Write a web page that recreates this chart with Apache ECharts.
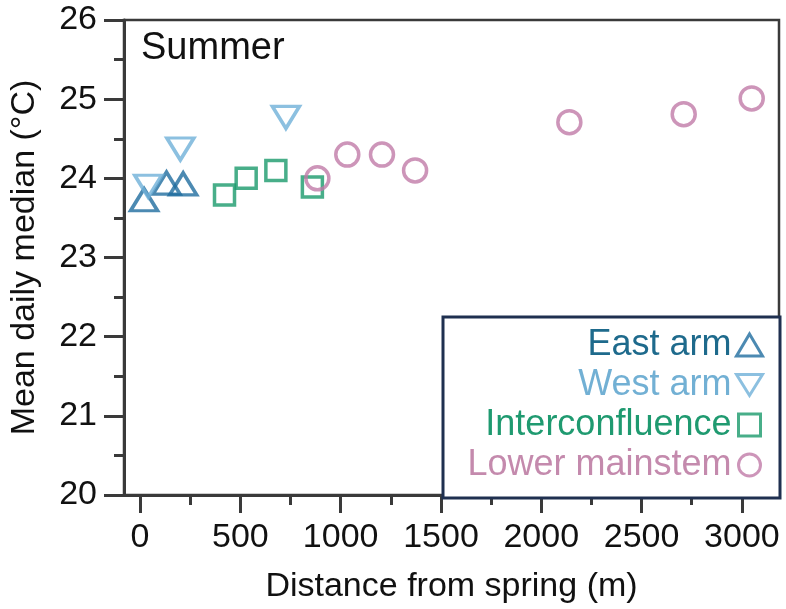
<!DOCTYPE html>
<html>
<head>
<meta charset="utf-8">
<title>Summer</title>
<script src="https://cdn.jsdelivr.net/npm/echarts@6/dist/echarts.min.js"></script>
<style>
  html, body { margin: 0; padding: 0; background: #fff; }
  #chart { width: 786px; height: 609px; }
</style>
</head>
<body>
<div id="chart"></div>
<script>
// distance from spring (m) and mean daily median (°C), per reach
const eastX = [20, 132, 215]
const eastY = [23.73, 23.94, 23.93]
const westX = [41, 201, 727]
const westY = [23.90, 24.37, 24.77]
const interX = [421, 529, 677, 859]
const interY = [23.79, 24.00, 24.10, 23.89]
const lowerX = [884, 1033, 1206, 1371, 2140, 2710, 3049]
const lowerY = [24.00, 24.30, 24.30, 24.10, 24.71, 24.81, 25.01]

const xMajorTicks = [0, 500, 1000, 1500, 2000, 2500, 3000]
const xMinorTicks = [250, 750, 1250, 1750, 2250, 2750]

const FONT = "'Liberation Sans', Arial, sans-serif"
const AXIS = '#3a3a3a'
const DOWN_TRI = 'path://M0,0L26,0L13,21Z'
const SQUARE = 'path://M0,0L20,0L20,20L0,20Z'

const pairs = (xs, ys) => xs.map((x, i) => [x, ys[i]])

const chart = echarts.init(document.getElementById('chart'))

chart.setOption({
  animation: false,
  title: {
    text: 'Summer',
    left: 136,
    top: 25,
    textStyle: { fontFamily: FONT, fontSize: 38, fontWeight: 'normal', color: '#111' }
  },
  grid: {
    left: 120, right: 7, top: 20, bottom: 110,
    show: true, borderColor: AXIS, borderWidth: 2.5
  },
  xAxis: [
    {
      type: 'value',
      min: -80,
      max: 3185,
      name: 'Distance from spring (m)',
      nameLocation: 'middle',
      nameGap: 75,
      nameTextStyle: { fontFamily: FONT, fontSize: 34, color: '#111' },
      axisLine: { onZero: false, lineStyle: { color: AXIS, width: 3 } },
      axisTick: { length: 18, lineStyle: { color: AXIS, width: 3 }, customValues: xMajorTicks },
      axisLabel: {
        fontFamily: FONT, fontSize: 34, color: '#111', margin: 26,
        customValues: xMajorTicks,
        formatter: v => String(v)
      },
      splitLine: { show: false }
    },
    {
      type: 'value',
      min: -80,
      max: 3185,
      position: 'bottom',
      axisLine: { show: false, onZero: false },
      axisTick: { length: 10, lineStyle: { color: AXIS, width: 3 }, customValues: xMinorTicks },
      axisLabel: { show: false },
      splitLine: { show: false }
    }
  ],
  yAxis: {
    type: 'value',
    min: 20,
    max: 26,
    interval: 1,
    name: 'Mean daily median (°C)',
    nameLocation: 'middle',
    nameGap: 82,
    nameTextStyle: { fontFamily: FONT, fontSize: 34, color: '#111' },
    axisLine: { onZero: false, lineStyle: { color: AXIS, width: 3 } },
    axisTick: { length: 20, lineStyle: { color: AXIS, width: 3 } },
    minorTick: { show: true, splitNumber: 2, length: 10, lineStyle: { color: AXIS, width: 3 } },
    axisLabel: { fontFamily: FONT, fontSize: 34, color: '#111', margin: 27 },
    splitLine: { show: false }
  },
  graphic: [
    {
      type: 'rect',
      z: 10,
      shape: { x: 443, y: 317, width: 337, height: 181 },
      style: { fill: '#fff', stroke: '#1f3050', lineWidth: 3 }
    }
  ],
  legend: {
    orient: 'vertical',
    align: 'right',
    right: 16,
    top: 322,
    z: 20,
    itemGap: 4,
    itemWidth: 26,
    itemHeight: 22,
    itemStyle: { borderWidth: 3 },
    textStyle: { fontFamily: FONT, fontSize: 36 },
    data: [
      { name: 'East arm', textStyle: { color: '#1e6a8c' } },
      { name: 'West arm', icon: DOWN_TRI, textStyle: { color: '#72b0d4' } },
      { name: 'Interconfluence', icon: SQUARE, textStyle: { color: '#1f9a70' } },
      { name: 'Lower mainstem', textStyle: { color: '#c48aad' } }
    ]
  },
  series: [
    {
      name: 'East arm',
      type: 'scatter',
      symbol: 'triangle',
      symbolSize: [27, 22],
      itemStyle: { color: 'none', borderColor: '#1f6d9f', borderWidth: 3.5 },
      data: pairs(eastX, eastY)
    },
    {
      name: 'West arm',
      type: 'scatter',
      symbol: 'triangle',
      symbolRotate: 180,
      symbolSize: [27, 22],
      itemStyle: { color: 'none', borderColor: '#6fb0d8', borderWidth: 3.5 },
      data: pairs(westX, westY)
    },
    {
      name: 'Interconfluence',
      type: 'scatter',
      symbol: 'rect',
      symbolSize: 20,
      itemStyle: { color: 'none', borderColor: '#1a9a6c', borderWidth: 3.5 },
      data: pairs(interX, interY)
    },
    {
      name: 'Lower mainstem',
      type: 'scatter',
      symbol: 'circle',
      symbolSize: 23,
      itemStyle: { color: 'none', borderColor: '#c07ba7', borderWidth: 3.5 },
      data: pairs(lowerX, lowerY)
    }
  ]
})
</script>
</body>
</html>
